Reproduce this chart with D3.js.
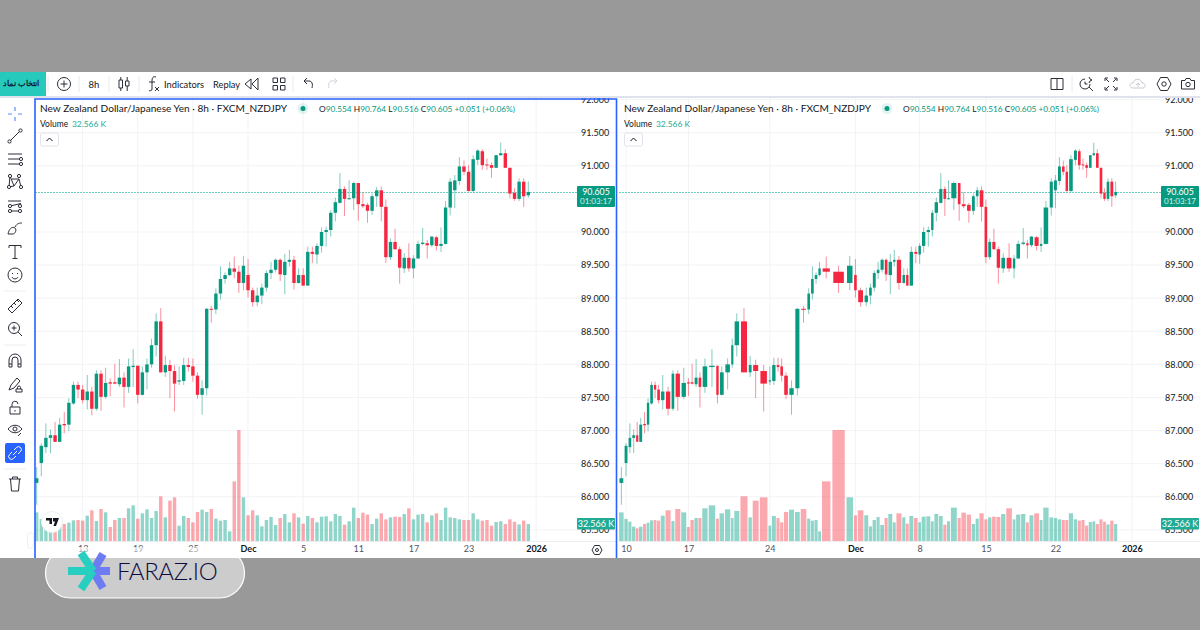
<!DOCTYPE html>
<html>
<head>
<meta charset="utf-8">
<script src="https://cdn.jsdelivr.net/npm/d3@7"></script>
<style>
  html, body { margin: 0; padding: 0; background: #999; }
  svg { display: block; }
  text { font-family: Lato, "Open Sans", sans-serif; }
</style>
</head>
<body>
<script>
// NZD/JPY 8h bars
var opens = [
  86.21,86.51,86.75,86.89,86.93,86.83,87.10,87.09,87.41,87.69,
  87.62,87.46,87.59,87.33,87.86,87.51,87.73,87.73,87.70,87.80,
  87.66,87.96,87.98,87.54,87.88,88.00,88.29,88.65,87.88,87.99,
  87.90,87.74,87.75,87.99,87.97,87.83,87.54,87.64,88.84,88.83,
  89.07,89.29,89.35,89.45,89.40,89.23,89.35,89.12,88.94,89.04,
  89.16,89.38,89.43,89.58,89.35,89.55,89.58,89.23,89.35,89.19,
  89.70,89.66,89.79,90.00,90.03,90.29,90.44,90.65,90.50,90.51,
  90.74,90.42,90.41,90.32,90.54,90.63,90.38,89.62,89.85,89.74,
  89.45,89.61,89.45,89.60,89.82,89.83,89.80,89.92,89.79,89.82,
  90.37,90.63,90.77,90.99,90.91,90.62,91.09,91.22,91.02,91.01,
  90.97,91.16,91.19,90.97,90.59,90.50,90.76,90.554];
var highs = [
  86.45,86.81,87.11,87.02,87.13,87.19,87.28,87.49,87.74,87.74,
  87.69,87.84,87.66,87.91,87.91,87.95,87.79,88.01,88.08,87.88,
  88.09,88.23,87.98,87.97,88.09,88.39,88.77,88.85,88.13,88.07,
  87.99,87.97,88.10,88.10,88.09,87.88,87.76,88.85,88.88,89.15,
  89.48,89.39,89.55,89.63,89.49,89.64,89.59,89.16,89.16,89.22,
  89.42,89.55,89.60,89.60,89.67,89.73,89.64,89.45,89.45,89.78,
  89.78,89.83,90.07,90.08,90.33,90.52,90.89,90.69,90.78,90.76,
  90.74,90.60,90.44,90.58,90.68,90.69,90.49,89.90,90.05,89.78,
  89.68,89.83,89.65,89.87,90.06,89.88,89.94,89.94,90.07,90.47,
  90.81,90.86,91.13,91.08,91.01,91.16,91.25,91.25,91.11,91.05,
  91.16,91.35,91.25,90.97,90.66,90.81,90.81,90.764];
var lows = [
  85.88,86.31,86.66,86.66,86.83,86.83,86.96,86.99,87.39,87.49,
  87.41,87.32,87.23,87.30,87.30,87.48,87.52,87.70,87.66,87.35,
  87.57,87.66,87.41,87.53,87.62,87.95,88.12,87.88,87.81,87.49,
  87.29,87.69,87.69,87.89,87.74,87.48,87.24,87.53,88.63,88.76,
  88.98,89.22,89.33,89.30,89.08,89.12,89.01,88.87,88.88,88.91,
  89.10,89.29,89.39,89.26,89.06,89.48,89.13,89.22,89.19,89.19,
  89.53,89.52,89.69,89.78,89.93,90.16,90.43,90.24,90.49,90.33,
  90.17,90.36,90.14,90.26,90.38,90.16,89.53,89.58,89.73,89.22,
  89.38,89.40,89.30,89.59,89.80,89.60,89.77,89.72,89.70,89.81,
  90.25,90.36,90.71,90.86,90.61,90.60,91.01,90.94,90.94,90.82,
  90.97,91.15,90.97,90.51,90.47,90.47,90.38,90.516];
var closes = [
  86.28,86.77,86.89,86.93,86.83,87.09,87.08,87.42,87.69,87.62,
  87.46,87.59,87.33,87.86,87.51,87.72,87.71,87.71,87.80,87.66,
  87.97,87.98,87.54,87.88,88.00,88.29,88.65,87.88,87.99,87.90,
  87.71,87.76,87.99,87.96,87.83,87.54,87.64,88.84,88.83,89.07,
  89.29,89.35,89.45,89.40,89.23,89.49,89.12,88.94,89.04,89.16,
  89.38,89.43,89.58,89.36,89.55,89.58,89.23,89.35,89.19,89.70,
  89.67,89.79,90.00,90.03,90.29,90.45,90.65,90.50,90.51,90.74,
  90.42,90.39,90.32,90.54,90.63,90.38,89.62,89.85,89.74,89.46,
  89.61,89.45,89.60,89.82,89.84,89.80,89.93,89.79,89.82,90.37,
  90.76,90.78,90.99,90.91,90.62,91.10,91.23,91.01,91.01,90.97,
  91.16,91.19,90.97,90.58,90.50,90.76,90.54,90.605];
// volume in thousands
var volumes = [
  54.9,42.2,37,27.5,24.3,27.5,32.6,35.1,39.6,40.2,
  39,48.5,58.8,38.3,61.3,54.9,26.8,40.2,44.1,44.1,
  62.6,68.3,42.8,53,60.7,44.1,57.5,85.6,45.3,77.3,
  83.7,29.4,47.9,44.1,35.8,55.6,60,55.6,61.3,42.8,
  39,40.2,18.5,114.3,212.7,83.7,49.2,58.8,49.2,28.1,
  40.2,46,30.7,44.1,51.7,35.8,53,45.3,
  33.2,47.9,44.1,35.8,46.6,47.3,37.7,51.7,47.9,31.3,
  37.7,63.9,44.1,54.3,50.5,32.6,42.8,53,41.5,45.3,
  46.6,46,51.7,62.6,41.5,50.5,51.7,35.8,49.2,53,
  40.2,63.9,45.3,44.1,41.5,40.2,40.2,53,41.5,39,
  40.2,29.4,36.4,37.7,32.6,41.5,37,31.9,39,32.566];
// relative time span of each bar on the right chart, its time axis is uneven
var rightSpans = [
  16,12,11,12,9,12,11,10,11,10,
  11,14,18,11,18,18,10,12,12,11,
  19,23,10,16,19,9,18,25,12,21,
  27,10,14,11,11,15,18,17,20,11,
  11,11,10,30,44,23,11,20,14,11,
  12,11,13,11,14,10,18,11,10,14,
  13,10,14,14,10,14,13,11,11,21,
  11,16,15,12,11,15,11,12,13,14,
  15,20,10,15,15,10,14,17,10,19,
  13,12,12,11,10,15,12,11,11,11,
  11,10,11,11,10,11,12,11];

var price_ticks = [85.5,86,86.5,87,87.5,88,88.5,89,89.5,90,90.5,91,91.5,92];
var left_tick_bars = [10,22,34,46,58,70,82,94,108.7];
var left_tick_labels = ["13","19","25","Dec","5","11","17","23","2026"];
var right_tick_bars = [1,16,31,46,61,76,91];
var right_tick_labels = ["10","17","24","Dec","8","15","22","2026"];
var last_price = 90.605;
var last_volume = 32.566;

var up_color = "#089981",
    down_color = "#f5263f",
    ink = "#131722",
    grid_color = "#f2f3f5",
    tag_color = "#089981",
    vol_tag_color = "#22ab94";

var svg = d3.select("body").append("svg")
        .attr("width", 1200)
        .attr("height", 630);

svg.append("rect").attr("width", 1200).attr("height", 630).attr("fill", "#999999");
svg.append("rect").attr("y", 72).attr("width", 1200).attr("height", 486).attr("fill", "#ffffff");

var defs = svg.append("defs");

var scale_y = d3.scaleLinear().domain([90, 91]).range([232, 165.8]);
var scale_vol = d3.scaleLinear().domain([0, 212.7]).range([541, 430]);

function put_text(parent, x, y, str, size, fill, anchor, weight) {
    return parent.append("text")
            .attr("x", x)
            .attr("y", y)
            .attr("font-size", size)
            .attr("fill", fill)
            .attr("text-anchor", anchor || "start")
            .attr("font-weight", weight || 400)
            .text(str);
}

// one chart pane, center_x/width_x give each bar's place on its own time axis
function draw_pane(p) {
    var clip_id = "clip" + p.dx;
    defs.append("clipPath").attr("id", clip_id)
            .append("rect")
            .attr("x", p.dx + 35).attr("y", 98)
            .attr("width", 582).attr("height", 460);

    var g = svg.append("g").attr("clip-path", "url(#" + clip_id + ")");
    var bars = d3.range(opens.length);

    // grid
    g.append("g").selectAll("line").data(price_ticks).join("line")
            .attr("x1", p.dx + 35).attr("x2", p.dx + 617)
            .attr("y1", function(d){return scale_y(d);})
            .attr("y2", function(d){return scale_y(d);})
            .attr("stroke", grid_color);
    g.append("g").selectAll("line").data(p.ticks).join("line")
            .attr("x1", function(d){return p.scale(d);})
            .attr("x2", function(d){return p.scale(d);})
            .attr("y1", 98).attr("y2", 541)
            .attr("stroke", grid_color);
    g.append("line")
            .attr("x1", p.dx + 35).attr("x2", p.dx + 617)
            .attr("y1", 541.5).attr("y2", 541.5)
            .attr("stroke", "#ebedf0");

    // volume
    g.append("g").selectAll("rect").data(bars).join("rect")
            .attr("x", function(i){return p.center(i) - p.vol_width(i)/2;})
            .attr("width", function(i){return p.vol_width(i);})
            .attr("y", function(i){return scale_vol(volumes[i]);})
            .attr("height", function(i){return scale_vol(0) - scale_vol(volumes[i]);})
            .attr("fill", function(i){return closes[i] >= opens[i] ? vol_tag_color : "#f7525f";})
            .attr("opacity", 0.5);

    // last price line, snapped so the dots stay crisp
    var last_y = Math.round(scale_y(last_price)) + 0.5;
    g.append("line")
            .attr("x1", p.dx + 35).attr("x2", p.dx + 577)
            .attr("y1", last_y).attr("y2", last_y)
            .attr("stroke", "#6fd0bd")
            .attr("stroke-dasharray", "2 1");

    // wicks and bodies
    g.append("g").selectAll("line").data(bars).join("line")
            .attr("x1", function(i){return p.center(i);})
            .attr("x2", function(i){return p.center(i);})
            .attr("y1", function(i){return scale_y(highs[i]);})
            .attr("y2", function(i){return scale_y(lows[i]);})
            .attr("stroke", function(i){return closes[i] >= opens[i] ? up_color : down_color;})
            .attr("stroke-opacity", 0.5);
    g.append("g").selectAll("rect").data(bars).join("rect")
            .attr("x", function(i){return p.center(i) - p.body_width(i)/2;})
            .attr("width", function(i){return p.body_width(i);})
            .attr("y", function(i){return Math.min(scale_y(opens[i]), scale_y(closes[i]));})
            .attr("height", function(i){return Math.max(1, Math.abs(scale_y(opens[i]) - scale_y(closes[i])));})
            .attr("fill", function(i){return closes[i] >= opens[i] ? up_color : down_color;});

    // price axis, the 90.500 label is covered by the price tag so it stays empty
    var y_axis = g.append("g")
            .attr("transform", "translate(" + (p.dx + 577) + ",0)")
            .call(d3.axisRight(scale_y)
                    .tickValues(price_ticks)
                    .tickFormat(function(d){return d === 90.5 ? "" : d3.format(".3f")(d);})
                    .tickSize(0)
                    .tickPadding(4));
    y_axis.select(".domain").remove();
    y_axis.selectAll("text").attr("font-size", 9).attr("fill", ink)
            .attr("font-family", "Lato, sans-serif");

    // time axis
    var x_axis = g.append("g")
            .attr("transform", "translate(0,541)")
            .call(d3.axisBottom(p.scale)
                    .tickValues(p.ticks)
                    .tickFormat(function(d, i){return p.labels[i];})
                    .tickSize(0)
                    .tickPadding(5));
    x_axis.select(".domain").remove();
    x_axis.selectAll("text").attr("font-size", 9)
            .attr("font-family", "Lato, sans-serif")
            .attr("font-weight", function(d, i){return p.labels[i].length > 2 ? 700 : 400;})
            .attr("fill", function(d, i){return p.labels[i].length > 2 ? ink : "#50535e";});

    // value tags
    g.append("rect").attr("x", p.dx + 577).attr("y", scale_y(last_price) - 6)
            .attr("width", 38).attr("height", 21).attr("rx", 1).attr("fill", tag_color);
    put_text(g, p.dx + 596, scale_y(last_price) + 2.8, "90.605", 8.8, "#ffffff", "middle");
    put_text(g, p.dx + 596, scale_y(last_price) + 12.4, "01:03:17", 8, "#d5efe9", "middle");
    g.append("rect").attr("x", p.dx + 577).attr("y", 518)
            .attr("width", 38).attr("height", 11.5).attr("rx", 1).attr("fill", vol_tag_color);
    put_text(g, p.dx + 596, 527.3, "32.566 K", 9, "#ffffff", "middle");

    // legend
    put_text(svg, p.dx + 40, 112, "New Zealand Dollar/Japanese Yen · 8h · FXCM_NZDJPY", 10.1, ink);
    svg.append("circle").attr("cx", p.dx + 303).attr("cy", 108.5).attr("r", 5.5)
            .attr("fill", up_color).attr("opacity", 0.12);
    svg.append("circle").attr("cx", p.dx + 303).attr("cy", 108.5).attr("r", 2.5)
            .attr("fill", up_color);
    var ohlc = put_text(svg, p.dx + 319, 112, "", 8.3, ink);
    [["O", ink], ["90.554 ", up_color], ["H", ink], ["90.764 ", up_color],
     ["L", ink], ["90.516 ", up_color], ["C", ink], ["90.605 ", up_color],
     ["+0.051 (+0.06%)", up_color]].forEach(function(part){
        ohlc.append("tspan").attr("fill", part[1]).text(part[0]);
    });
    put_text(svg, p.dx + 40, 127, "Volume", 8.5, ink);
    put_text(svg, p.dx + 72, 127, "32.566 K", 8.4, vol_tag_color);
    svg.append("rect").attr("x", p.dx + 40.5).attr("y", 133).attr("width", 18).attr("height", 13)
            .attr("rx", 2).attr("fill", "#ffffff").attr("stroke", "#e0e3eb");
    svg.append("path").attr("d", "M" + (p.dx + 46.5) + " 141l3-3l3 3")
            .attr("fill", "none").attr("stroke", ink);
}

var x_left = d3.scaleLinear().domain([0, 107]).range([36.7, 528.3]);
draw_pane({
    dx: 0,
    scale: x_left,
    ticks: left_tick_bars,
    labels: left_tick_labels,
    center: function(i){return x_left(i);},
    body_width: function(){return 3.4;},
    vol_width: function(){return 3.4;}
});

// right chart: bars sit on cumulative spans
var span_total = d3.sum(rightSpans);
var span_starts = d3.cumsum([0].concat(rightSpans));
var x_right = d3.scaleLinear().domain([0, span_total]).range([618.7, 1117.5]);
function right_center(i) {return x_right(span_starts[i] + rightSpans[i]/2);}
function right_width(i) {return x_right(rightSpans[i]) - x_right(0);}
var right_ticks = right_tick_bars.map(function(b){return span_starts[b] + rightSpans[b]/2;});
right_ticks.push(span_total + 43);  // 2026 sits past the last bar
draw_pane({
    dx: 584,
    scale: x_right,
    ticks: right_ticks,
    labels: right_tick_labels,
    center: right_center,
    body_width: function(i){return right_width(i)*0.72;},
    vol_width: function(i){return right_width(i)*0.84;}
});

// ---- toolbar and side bar ----
var stroke_ink = "#2a2e39";
function icon(cx, cy, d, color, width) {
    return svg.append("path")
            .attr("transform", "translate(" + cx + "," + cy + ")")
            .attr("d", d)
            .attr("fill", "none")
            .attr("stroke", color || stroke_ink)
            .attr("stroke-width", width || 1);
}
function dots(cx, cy, pts) {
    pts.forEach(function(pt){
        svg.append("circle").attr("cx", cx + pt[0]).attr("cy", cy + pt[1]).attr("r", 1.6)
                .attr("fill", "#ffffff").attr("stroke", stroke_ink);
    });
}

svg.append("rect").attr("x", 0).attr("y", 96).attr("width", 1200).attr("height", 2).attr("fill", "#e0e3eb");
svg.append("rect").attr("x", 0).attr("y", 72).attr("width", 46).attr("height", 24).attr("fill", "#26c9bb");
svg.append("text").attr("x", 21).attr("y", 86).attr("font-size", 8.4)
        .attr("font-family", "'DejaVu Sans', sans-serif").attr("font-weight", 700)
        .attr("text-anchor", "middle").attr("fill", "#10243a").attr("direction", "rtl")
        .text("انتخاب نماد");
[48, 79, 109, 139, 293, 1072].forEach(function(x){
    svg.append("line").attr("x1", x).attr("x2", x).attr("y1", 76).attr("y2", 92).attr("stroke", "#e8eaee");
});
icon(64, 84, "M0 -6.5A6.5 6.5 0 1 1 0 6.5A6.5 6.5 0 1 1 0 -6.5M-3.5 0H3.5M0 -3.5V3.5");
put_text(svg, 94, 87.5, "8h", 9.5, ink, "middle");
icon(124, 84, "M-5 -4H-1.5V4H-5ZM-3.2 -7V-4M-3.2 4V7M1.5 -3H5V2H1.5ZM3.2 -7V-3M3.2 2V7");
icon(153, 84, "M3 -7C0 -8 -1 -6 -1 -3V5C-1 7 -3 7 -4 6.5M-4 -2H2M2 3L6 7M6 3L2 7");
put_text(svg, 164, 87.5, "Indicators", 9.3, ink);
put_text(svg, 213, 87.5, "Replay", 9.3, ink);
icon(252, 84, "M-1 -5L-7 0L-1 5ZM6 -6V6L0 0Z");
icon(279, 84, "M-6 -6H-1.5V-1.5H-6ZM1.5 -6H6V-1.5H1.5ZM-6 1.5H-1.5V6H-6ZM1.5 1.5H6V6H1.5Z");
icon(308, 84, "M-4 -3L-1 -6M-4 -3L-1 0M-4 -3H1C4 -3 5 0 4 4");
icon(333, 84, "M4 -3L1 -6M4 -3L1 0M4 -3H-1C-4 -3 -5 0 -4 4", "#d1d4dc");
icon(1057, 84, "M-6 -5.5H6V5.5H-6ZM0 -5.5V5.5");
icon(1086, 84, "M4 0A5 5 0 1 1 -1 -5M3 3L7 7M-1 -2.5V0H1.5M3 -7L4 -5L6 -4L4 -3L3 -1");
icon(1111, 84, "M-6 -3V-6H-3M3 -6H6V-3M6 3V6H3M-3 6H-6V3M-5 -5L-2 -2M5 -5L2 -2M5 5L2 2M-5 5L-2 2");
icon(1138, 84, "M-5 4C-9 4 -9 -1 -5 -1C-4 -6 3 -6 4 -1C8 -1 8 4 5 4ZM0 3V-1M-2 1L0 -1L2 1", "#c8cbd3");
icon(1164, 84, "M-3.5 -6.5H3.5L7 0L3.5 6.5H-3.5L-7 0ZM2.2 0A2.2 2.2 0 1 1 -2.2 0A2.2 2.2 0 1 1 2.2 0");
icon(1188, 84, "M-6.5 -3.5H-3L-2 -5.5H2L3 -3.5H6.5V5H-6.5ZM2.2 0.5A2.2 2.2 0 1 1 -2.2 0.5A2.2 2.2 0 1 1 2.2 0.5");

// tools on the left
icon(15, 114, "M-7 0H-3M3 0H7M0 -7V-3M0 3V7", "#5b8cff", 1.2);
icon(15, 136, "M-5 5L5 -5");
dots(15, 136, [[-5.5, 5.5], [5.5, -5.5]]);
icon(15, 159, "M-7 -5H7M-7 0H7M-7 5H7");
dots(15, 159, [[6, 0], [6, 5]]);
icon(15, 182, "M-5 -6L-1 4L4 -3L6 5M-5 -6L-6 5M-1 4L-6 5M4 -3L-3 -3");
dots(15, 182, [[-5, -6], [-6, 5], [4, -6], [6, 5]]);
icon(15, 206, "M-7 -5H6M-7 0.5L6 -2.5M-7 5H6");
dots(15, 206, [[-5, 0], [5, 0], [-5, 5], [5, 5]]);
icon(15, 229, "M-7 5C-6 0 -3 -3 0 -1C2 1 0 5 -2 5ZM0 -2C2 -6 5 -6 7 -6");
icon(15, 252, "M-6 -4V-6.5H6V-4M0 -6.5V6.5M-2.5 6.5H2.5");
icon(15, 275, "M7 0A7 7 0 1 1 -7 0A7 7 0 1 1 7 0M-3 2C-2 4.5 2 4.5 3 2M-2.5 -2V-1M2.5 -2V-1");
icon(15, 306, "M-7 3L3 -7L7 -3L-3 7ZM-4 0L-2 2M-1 -3L1 -1M2 -6L4 -4");
icon(15, 329, "M4.5 -1A5.5 5.5 0 1 1 -6.5 -1A5.5 5.5 0 1 1 4.5 -1M-3.5 -1H1.5M-1 -3.5V1.5M3 3L7 7");
icon(15, 361, "M-6 6V-1A6 6 0 0 1 6 -1V6H3V-1A3 3 0 0 0 -3 -1V6ZM-6 3H-3M3 3H6");
icon(15, 384, "M-6 6L-4 1L2 -6L5 -3L-1 4ZM1 5H7V8H1ZM2.5 5V3.5A1.5 1.5 0 0 1 5.5 3.5V5");
icon(15, 408, "M-5 -1H5V6H-5ZM-3 -1V-3.5A3 3 0 0 1 3 -4M0 2V3.5");
icon(15, 430, "M-7 -1C-3 -6 3 -6 7 -1C3 4 -3 4 -7 -1ZM2 -1A2 2 0 1 1 -2 -1A2 2 0 1 1 2 -1M3 6L6 3");
svg.append("rect").attr("x", 5).attr("y", 443).attr("width", 20).attr("height", 20)
        .attr("rx", 2).attr("fill", "#2962ff");
icon(15, 453, "M-1 -3L1.5 -5.5A2.5 2.5 0 0 1 5.5 -1.5L3 1M1 3L-1.5 5.5A2.5 2.5 0 0 1 -5.5 1.5L-3 -1M-2 2L2 -2", "#ffffff");
icon(15, 484, "M-6 -5H6M-2.5 -5V-7H2.5V-5M-4.5 -5L-3.5 7H3.5L4.5 -5");
[291, 345, 469].forEach(function(y){
    svg.append("line").attr("x1", 4).attr("x2", 26).attr("y1", y).attr("y2", y).attr("stroke", "#eceef2");
});

// settings gear on the left time axis
icon(597, 550, "M-2.5 -4.5H2.5L5 0L2.5 4.5H-2.5L-5 0ZM1.5 0A1.5 1.5 0 1 1 -1.5 0A1.5 1.5 0 1 1 1.5 0");

// TradingView badge
svg.append("circle").attr("cx", 52).attr("cy", 522).attr("r", 10.5)
        .attr("fill", "#ffffff").attr("stroke", "#eef0f3");
svg.append("path").attr("d", "M46 518H52V524H49.5V520.5H46ZM53 518H59L56 526H53.5L55 521.5H53Z").attr("fill", "#131722");

// side bar handle
svg.append("rect").attr("x", 27.5).attr("y", 533).attr("width", 6).attr("height", 15).attr("rx", 2)
        .attr("fill", "#ffffff").attr("stroke", "#eef0f3");

// selected pane border
svg.append("path")
        .attr("d", "M35 558V99H616.5V558")
        .attr("fill", "none")
        .attr("stroke", "#2962ff")
        .attr("stroke-width", 1.6);

// bottom band, then the watermark on top of it
svg.append("rect").attr("y", 558).attr("width", 1200).attr("height", 72).attr("fill", "#999999");
svg.append("rect").attr("x", 45.5).attr("y", 548).attr("width", 199).attr("height", 50).attr("rx", 25)
        .attr("fill", "#ffffff").attr("fill-opacity", 0.5)
        .attr("stroke", "#ffffff").attr("stroke-width", 1.2);
var logo = svg.append("g").attr("transform", "translate(93,571)").attr("fill", "none").attr("stroke-width", 8);
logo.append("path").attr("d", "M0 0L10 -17M0 0L10 17M0 0H17").attr("stroke", "#6d7cf2");
logo.append("path").attr("d", "M0 0L-12 -18M0 0L-12 18M0 0H-25").attr("stroke", "#26cfc0");
put_text(svg, 117, 580, "FARAZ.IO", 24, "#0f0b40", "start", 300).attr("letter-spacing", -0.4);
</script>
</body>
</html>
